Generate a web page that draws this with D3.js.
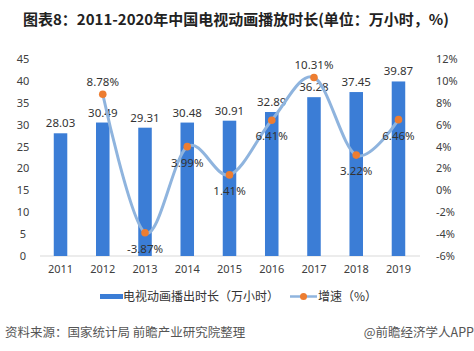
<!DOCTYPE html>
<html>
<head>
<meta charset="utf-8">
<script src="https://cdn.jsdelivr.net/npm/d3@7"></script>
<style>
  body { margin: 0; background: #fff; }
  svg text { font-family: "Microsoft YaHei", "Noto Sans CJK SC", sans-serif; }
</style>
</head>
<body>
<div id="chart"></div>
<script>
// data
const years = ["2011", "2012", "2013", "2014", "2015", "2016", "2017", "2018", "2019"];
const hours = [28.03, 30.49, 29.31, 30.48, 30.91, 32.89, 36.28, 37.45, 39.87];
const growth = [null, 8.78, -3.87, 3.99, 1.41, 6.41, 10.31, 3.22, 6.46];
const growthLabelPos = [null, "above", "below", "below", "below", "below", "above", "below", "below"];
const leftTicks = [0, 5, 10, 15, 20, 25, 30, 35, 40, 45];
const rightTicks = [-6, -4, -2, 0, 2, 4, 6, 8, 10, 12];

const W = 474, H = 351;
const barColor = "#3b7dd6";
const lineColor = "#8fb4de";
const dotColor = "#ed7d31";
const textColor = "#404040";

const svg = d3.select("#chart").append("svg")
    .attr("width", W)
    .attr("height", H);

// Title
svg.append("text")
    .attr("x", 23)
    .attr("y", 25)
    .style("font-size", "15px")
    .style("font-weight", "bold")
    .style("fill", "#222")
    .text("图表8：2011-2020年中国电视动画播放时长(单位：万小时，%)");

// Scales
const x = d3.scaleBand()
    .domain(years)
    .range([39.4, 419.6])
    .paddingInner(0.68)
    .paddingOuter(0.34);

const yL = d3.scaleLinear().domain([0, 45]).range([256, 59]);
const yR = d3.scaleLinear().domain([-6, 12]).range([256, 59]);

// Left axis
const axL = svg.append("g")
    .attr("transform", "translate(34,0)")
    .call(d3.axisLeft(yL).tickValues(leftTicks).tickSize(0).tickPadding(0));
axL.select(".domain").remove();
axL.selectAll("text")
    .attr("text-anchor", "middle")
    .attr("x", -11)
    .style("font-size", "11px")
    .style("fill", textColor)
    .style("font-family", "'Noto Sans', sans-serif");

// Right axis
const axR = svg.append("g")
    .attr("transform", "translate(436,0)")
    .call(d3.axisRight(yR).tickValues(rightTicks).tickSize(0).tickPadding(0)
        .tickFormat(d => d + "%"));
axR.select(".domain").remove();
axR.selectAll("text")
    .style("font-size", "11px")
    .style("fill", textColor)
    .style("font-family", "'Noto Sans', sans-serif");

// Baseline
svg.append("line")
    .attr("x1", 40).attr("x2", 420)
    .attr("y1", yL(0)).attr("y2", yL(0))
    .style("stroke", "#d9d9d9")
    .style("stroke-width", 1);

// Bottom axis labels
const axB = svg.append("g")
    .attr("transform", `translate(0,${yL(0)})`)
    .call(d3.axisBottom(x).tickSize(0).tickPadding(9));
axB.select(".domain").remove();
axB.selectAll("text")
    .style("font-size", "11px")
    .style("fill", textColor)
    .style("font-family", "'Noto Sans', sans-serif");

// Bars
svg.selectAll("rect.bar")
    .data(hours)
    .enter().append("rect")
    .attr("class", "bar")
    .attr("x", (d, i) => x(years[i]))
    .attr("y", d => yL(d))
    .attr("width", x.bandwidth())
    .attr("height", d => yL(0) - yL(d))
    .style("fill", barColor);

// Bar labels
svg.selectAll("text.barlab")
    .data(hours)
    .enter().append("text")
    .attr("class", "barlab")
    .attr("x", (d, i) => x(years[i]) + x.bandwidth() / 2)
    .attr("y", d => yL(d) - 6)
    .attr("text-anchor", "middle")
    .style("font-size", "11.5px")
    .style("fill", "#333")
    .style("font-family", "'Noto Sans', sans-serif")
    .text(d => d.toFixed(2));

// Growth line
const pts = growth.map((g, i) => ({ year: years[i], g: g, pos: growthLabelPos[i] }))
    .filter(d => d.g !== null);
const cx = d => x(d.year) + x.bandwidth() / 2;

const line = d3.line()
    .x(cx)
    .y(d => yR(d.g))
    .curve(d3.curveCardinal.tension(0));

svg.append("path")
    .datum(pts)
    .attr("d", line)
    .style("fill", "none")
    .style("stroke", lineColor)
    .style("stroke-width", 3);

svg.selectAll("circle.dot")
    .data(pts)
    .enter().append("circle")
    .attr("class", "dot")
    .attr("cx", cx)
    .attr("cy", d => yR(d.g))
    .attr("r", 3.8)
    .style("fill", dotColor);

svg.selectAll("text.glab")
    .data(pts)
    .enter().append("text")
    .attr("class", "glab")
    .attr("x", cx)
    .attr("y", d => d.pos === "above" ? yR(d.g) - 8 : yR(d.g) + 20)
    .attr("text-anchor", "middle")
    .style("font-size", "11.5px")
    .style("fill", "#333")
    .style("font-family", "'Noto Sans', sans-serif")
    .text(d => d.g.toFixed(2) + "%");

// Legend
const leg = svg.append("g");
leg.append("rect")
    .attr("x", 100).attr("y", 294)
    .attr("width", 23).attr("height", 5)
    .style("fill", barColor);
leg.append("text")
    .attr("x", 123).attr("y", 300.5)
    .style("font-size", "12px")
    .style("fill", "#333")
    .text("电视动画播出时长（万小时）");
leg.append("line")
    .attr("x1", 290).attr("x2", 317)
    .attr("y1", 296.5).attr("y2", 296.5)
    .style("stroke", lineColor)
    .style("stroke-width", 2.5);
leg.append("circle")
    .attr("cx", 303.5).attr("cy", 296.5)
    .attr("r", 3.5)
    .style("fill", dotColor);
leg.append("text")
    .attr("x", 318).attr("y", 300.5)
    .style("font-size", "12px")
    .style("fill", "#333")
    .text("增速（%）");

// Footer
svg.append("text")
    .attr("x", 5).attr("y", 337)
    .style("font-size", "12.5px")
    .style("fill", "#555")
    .text("资料来源：国家统计局 前瞻产业研究院整理");
svg.append("text")
    .attr("x", 474).attr("y", 337)
    .attr("text-anchor", "end")
    .style("font-size", "12.5px")
    .style("fill", "#555")
    .text("@前瞻经济学人APP");
</script>
</body>
</html>
